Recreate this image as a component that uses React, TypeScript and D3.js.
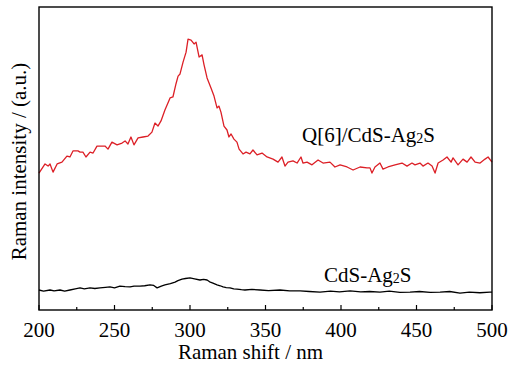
import React from "react";
import * as d3 from "d3";

// Raman shift (nm) and intensity (a.u.)
const redShift = [200,204,206,207.3,209.3,212,215.2,218.5,220.5,222.5,225.8,227.2,229.1,231.1,233.8,235.8,238.4,240.4,243.7,245.7,248.3,251.7,255,257,258.9,260.9,262.9,265.6,268.9,272.2,274.8,276.8,278.8,280.8,283.4,286.8,288.7,290.7,292.1,293.4,295.4,297.4,298.7,300.7,302.7,304,306,308,309.3,311.3,313.9,315.9,317.9,319.2,320.5,322.5,324.5,325.8,327.2,329.1,331.1,332.5,335.1,337.1,339.7,341.7,344.4,347.7,351,355,358.3,360.9,362.9,364.9,368.2,370.9,373.5,374.8,377.5,380.8,384.8,388.1,392.7,396,399.4,404,408,412.6,417.2,419.2,420.5,422.5,425.8,427.8,431.1,435.8,440.4,443.7,447,449,452.3,454.3,457.6,460.3,462.3,464.3,467.6,470.2,472.9,474.2,477.5,480.8,483.5,486.1,488.8,492.1,495.4,497.4,500];
const redIntensity = [452,482,475,482,455,482,488,508,505,525,525,521,521,505,521,518,541,541,541,531,554,545,551,558,548,571,545,568,571,574,587,617,607,624,660,700,703,746,772,779,818,851,894,891,878,884,835,842,809,766,733,706,667,673,653,607,594,571,581,564,554,531,515,521,515,528,512,518,505,498,488,505,475,488,492,485,505,485,488,479,495,485,488,472,479,472,462,472,469,469,452,472,485,465,472,479,485,475,485,479,485,475,485,475,452,485,495,505,488,502,479,498,488,505,488,485,498,505,488];

const blackShift = [200,203,207.3,210,213.9,217,220.5,224,227.2,230,233.8,237,240.4,244,247,250,253.6,257,260.3,263,266.9,270,273.5,276,278.2,281,283.4,287,290.1,292,294.7,297,300,303,306.6,309,311.3,313,315.2,317.9,320,321.9,324,326.5,329,331.1,334,336.4,341,346.4,352,359.6,366,372.9,379,386.1,393,399,406,413,419,425.8,432,439,445.7,452,459,465.6,472,478.8,485,492,498.7,500];
const blackIntensity = [66,62,66,63,66,62,66,70,73,70,73,71,73,75,76,73,79,77,76,79,79,80,83,81,73,79,83,87,92,97,102,104,106,103,99,101,99,93,89,83,80,76,74,73,70,69,67,66,68,66,64,66,63,63,61,59,62,60,63,60,61,59,62,58,59,61,58,59,61,56,59,57,59,59];

const xTicks = [200, 250, 300, 350, 400, 450, 500];
const xMinorTicks = [225, 275, 325, 375, 425, 475];
const seriesLabels = ["Q[6]/CdS-Ag", "CdS-Ag"];

export default function App() {
  const W = 512, H = 367;
  const left = 39, right = 492, top = 7, bottom = 310;
  const x = d3.scaleLinear().domain([200, 500]).range([left, right]);
  const y = d3.scaleLinear().domain([0, 1000]).range([bottom, top]);
  const mk = (xs: number[], ys: number[]) =>
    d3.line<[number, number]>().x((d) => x(d[0])).y((d) => y(d[1]))(xs.map((v, i) => [v, ys[i]] as [number, number])) || "";
  const font = "'Liberation Serif', 'Times New Roman', serif";
  const fs = 21;
  return (
    <svg width={W} height={H} style={{ position: "absolute", left: 0, top: 0, background: "#fff" }} fontFamily={font}>
      <rect x={0} y={0} width={W} height={H} fill="#fff" />
      <path d={mk(redShift, redIntensity)} fill="none" stroke="#dc1f26" strokeWidth={1.3} strokeLinejoin="round" />
      <path d={mk(blackShift, blackIntensity)} fill="none" stroke="#000" strokeWidth={1.3} strokeLinejoin="round" />
      <rect x={left} y={top} width={right - left} height={bottom - top} fill="none" stroke="#000" strokeWidth={1.4} />
      {xTicks.map((t) => (
        <g key={t}>
          <line x1={x(t)} x2={x(t)} y1={bottom} y2={bottom - 5} stroke="#000" strokeWidth={1.2} />
          <text x={x(t)} y={337} textAnchor="middle" fontSize={fs}>{t}</text>
        </g>
      ))}
      {xMinorTicks.map((t) => (
        <line key={t} x1={x(t)} x2={x(t)} y1={bottom} y2={bottom - 3} stroke="#000" strokeWidth={1.2} />
      ))}
      <text x={(left + right) / 2 - 15} y={359} textAnchor="middle" fontSize={fs}>Raman shift / nm</text>
      <text transform={`translate(26, ${(top + bottom) / 2 + 3}) rotate(-90)`} textAnchor="middle" fontSize={fs}>Raman intensity / (a.u.)</text>
      <text x={302} y={142} fontSize={fs}>
        {seriesLabels[0]}<tspan fontSize={14} dy={1}>2</tspan><tspan dy={-1}>S</tspan>
      </text>
      <text x={324} y={282} fontSize={fs}>
        {seriesLabels[1]}<tspan fontSize={14} dy={1}>2</tspan><tspan dy={-1}>S</tspan>
      </text>
    </svg>
  );
}
